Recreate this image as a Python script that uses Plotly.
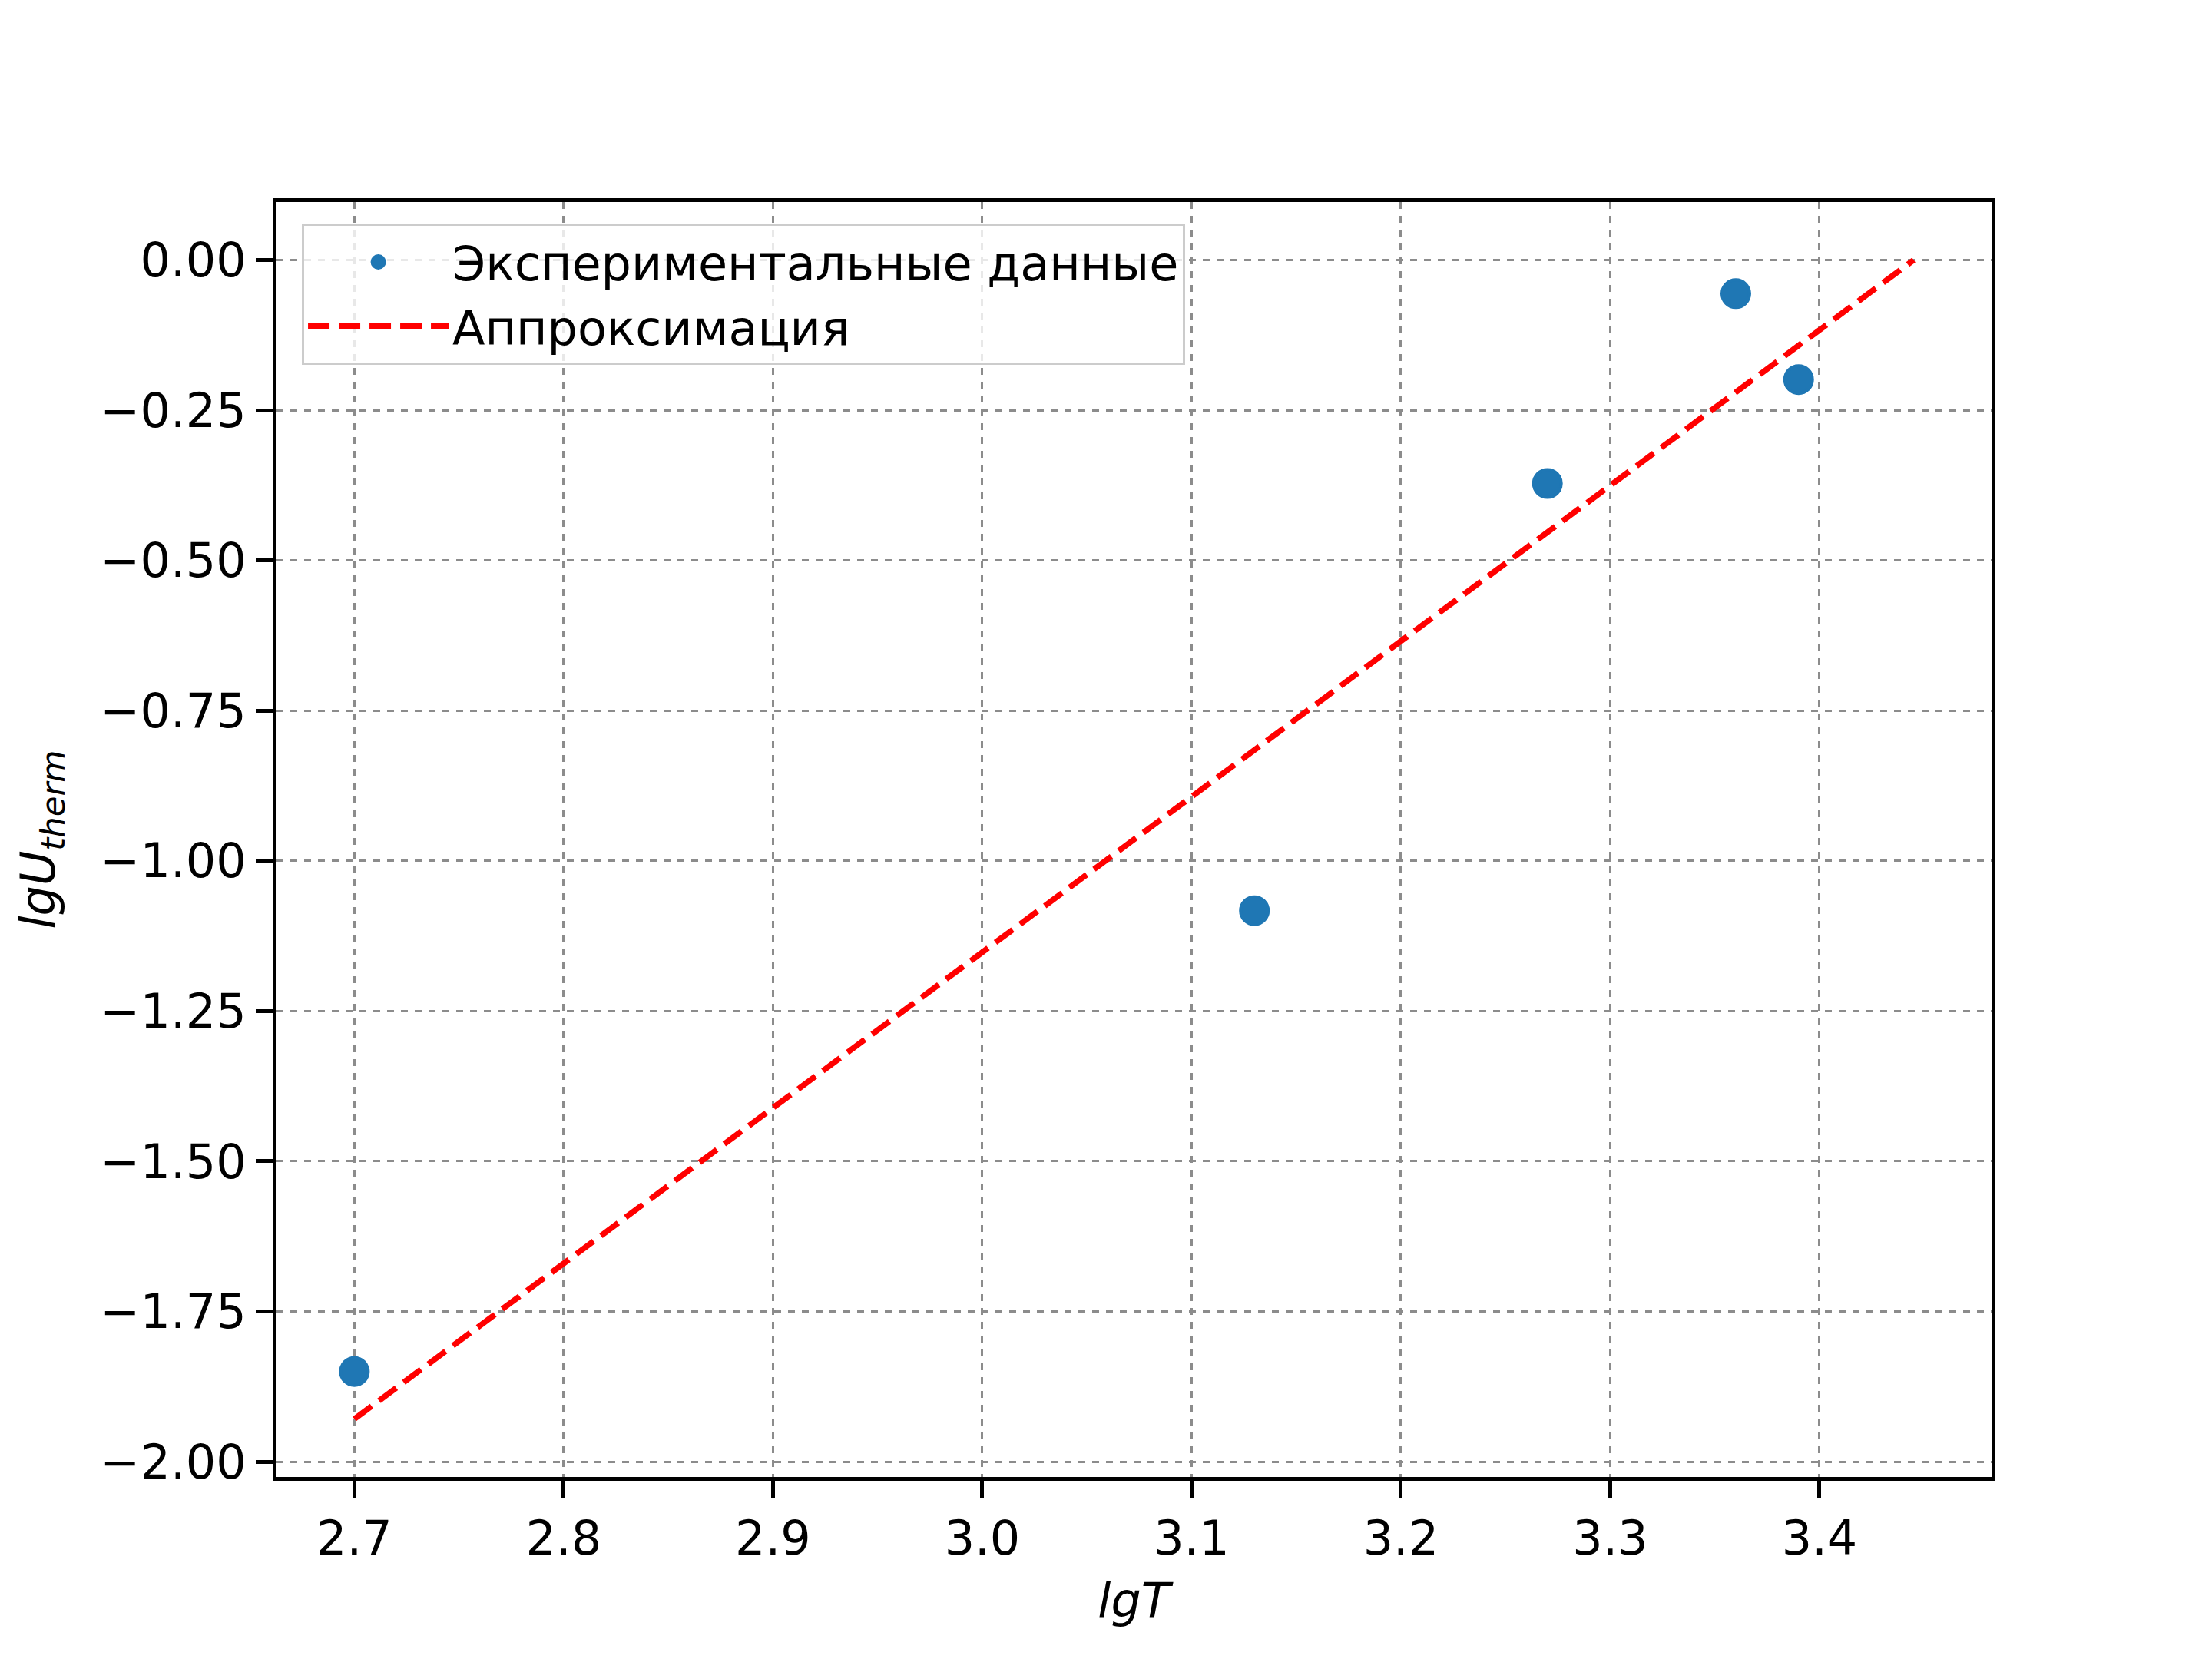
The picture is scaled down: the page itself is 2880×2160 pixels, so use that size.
import plotly.graph_objects as go

# Data
lgT = [2.70, 3.13, 3.27, 3.36, 3.39]
lgU = [-1.85, -1.083, -0.372, -0.056, -0.199]
fit_x = [2.70, 3.445]
fit_y = [-1.929, 0.0]

x_ticks = [2.7, 2.8, 2.9, 3.0, 3.1, 3.2, 3.3, 3.4]
y_ticks = [0.0, -0.25, -0.5, -0.75, -1.0, -1.25, -1.5, -1.75, -2.0]

FONT = "DejaVu Sans"
FS = 62

fig = go.Figure()
fig.add_trace(go.Scatter(
    x=lgT, y=lgU, mode="markers", name="Экспериментальные данные",
    marker=dict(color="#1f77b4", size=36, line=dict(color="#1f77b4", width=4)),
))
fig.add_trace(go.Scatter(
    x=fit_x, y=fit_y, mode="lines", name="Аппроксимация",
    line=dict(color="#ff0000", width=7.5, dash="28px,12px"),
))

axis_common = dict(
    showline=True, linecolor="black", linewidth=5, mirror=True,
    ticks="outside", ticklen=22, tickwidth=5, tickcolor="black",
    showgrid=True, gridcolor="#8c8c8c", gridwidth=2.5, griddash="dash",
    zeroline=False,
    tickfont=dict(family=FONT, size=FS, color="black"),
)

fig.update_xaxes(
    range=[2.6628, 3.4822], tickvals=x_ticks,
    ticktext=[f"{v:.1f}" for v in x_ticks],
    title=dict(text="<i>lgT</i>", font=dict(family=FONT, size=FS, color="black"), standoff=25),
    **axis_common,
)
fig.update_yaxes(
    range=[-2.0255, 0.0965], tickvals=y_ticks,
    ticktext=[("−" if v < 0 else "") + f"{abs(v):.2f}" for v in y_ticks],
    title=dict(text="<i>lgU<sub>therm</sub></i>", font=dict(family=FONT, size=FS, color="black"), standoff=40),
    **axis_common,
)

fig.update_layout(
    width=2880, height=2160,
    margin=dict(l=352, r=295, t=255, b=245),
    paper_bgcolor="white", plot_bgcolor="white",
    font=dict(family=FONT, size=FS, color="black"),
    showlegend=True,
    legend=dict(
        x=0.0148, y=0.983, xanchor="left", yanchor="top",
        bgcolor="rgba(255,255,255,0.8)", bordercolor="#cccccc", borderwidth=3,
        font=dict(family=FONT, size=FS, color="black"),
        itemwidth=183,
    ),
)

fig.write_html("out.html")
